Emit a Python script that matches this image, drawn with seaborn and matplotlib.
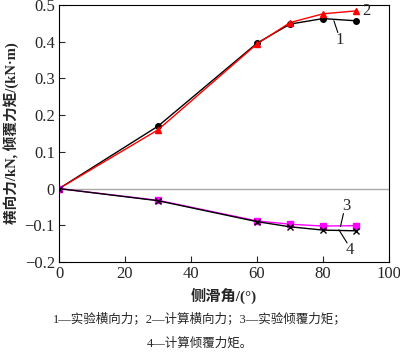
import matplotlib
matplotlib.use("Agg")
import matplotlib.pyplot as plt
import seaborn as sns
from matplotlib.ticker import FuncFormatter

# 侧滑角 (°)
angle = [0, 30, 60, 70, 80, 90]
# 1 实验横向力, 2 计算横向力
force_exp = [0.0, 0.170, 0.396, 0.448, 0.463, 0.457]
force_calc = [0.0, 0.160, 0.394, 0.452, 0.476, 0.484]
# 3 实验倾覆力矩, 4 计算倾覆力矩
moment_exp = [0.0, -0.032, -0.088, -0.097, -0.102, -0.101]
moment_calc = [0.0, -0.033, -0.090, -0.104, -0.113, -0.115]

xticks = [0, 20, 40, 60, 80, 100]
yticks = [-0.2, -0.1, 0, 0.1, 0.2, 0.3, 0.4, 0.5]

sns.set_theme(style="ticks")
fonts = ['Liberation Serif', 'Noto Sans CJK SC']
plt.rcParams['font.family'] = fonts
plt.rcParams['axes.unicode_minus'] = True

fig = plt.figure(figsize=(4.0, 3.57), dpi=100)
ax = fig.add_axes([0.1475, 0.266, 0.825, 0.72])

ax.axhline(0, color='#aaaaaa', lw=1.0, zorder=1)

series = [
    (force_exp, 'black', 'o', 4),
    (force_calc, 'red', '^', 5),
    (moment_exp, 'magenta', 's', 4.5),
    (moment_calc, 'black', 'x', 4.5),
]
for vals, col, mk, ms in series:
    sns.lineplot(x=angle, y=vals, ax=ax, color=col, marker=mk, markersize=ms,
                 markeredgecolor=col, markeredgewidth=1.0, lw=1.0, legend=False)

# 曲线编号
ax.text(92.0, 0.483, '2', fontsize=12, ha='left', va='center')
ax.text(85.0, 0.404, '1', fontsize=12, ha='center', va='center')
ax.plot([83.3, 84.5], [0.457, 0.425], color='black', lw=0.8)
ax.text(87.0, -0.048, '3', fontsize=12, ha='center', va='center')
ax.plot([85.3, 86.2], [-0.103, -0.068], color='black', lw=0.8)
ax.text(88.2, -0.168, '4', fontsize=12, ha='center', va='center')
ax.plot([84.8, 87.3], [-0.112, -0.148], color='black', lw=0.8)

ax.set_xlim(0, 100)
ax.set_ylim(-0.2, 0.5)
ax.set_xticks(xticks)
ax.set_yticks(yticks)
ax.yaxis.set_major_formatter(FuncFormatter(
    lambda v, p: '0' if abs(v) < 1e-9 else f'{v:.1f}'.replace('-', '\u2212')))
ax.tick_params(direction='in', length=4, width=0.8, labelsize=12, pad=3,
               top=False, right=False)
for s in ax.spines.values():
    s.set_linewidth(0.8)
    s.set_color('black')

ax.set_xlabel('侧滑角/(°)', fontsize=11, fontweight='bold', labelpad=4)
ax.set_ylabel('横向力/kN, 倾覆力矩/(kN·m)', fontsize=10.5, fontweight='bold', labelpad=4)

fig.text(0.5, 0.107, '1—实验横向力；2—计算横向力；3—实验倾覆力矩；', ha='center',
         va='center', fontsize=9)
fig.text(0.5, 0.037, '4—计算倾覆力矩。', ha='center', va='center', fontsize=9)

fig.savefig('out.png', dpi=100)
